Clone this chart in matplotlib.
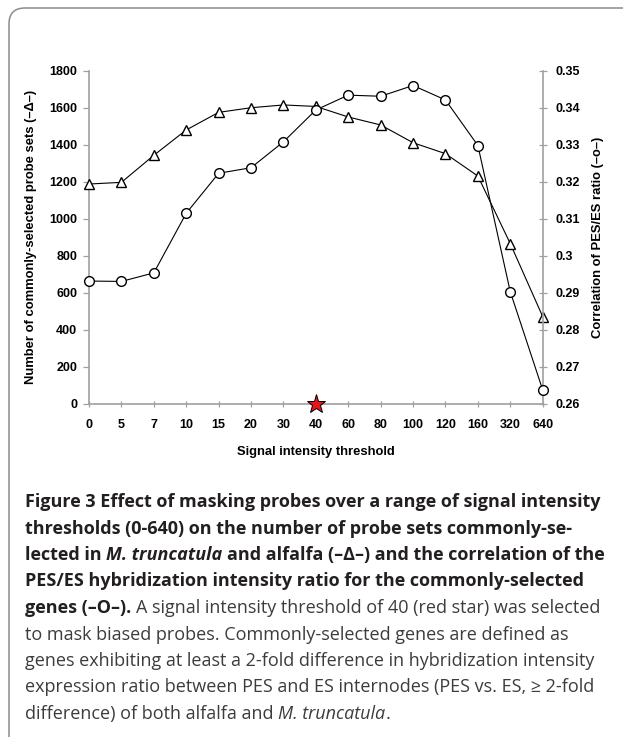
import matplotlib
matplotlib.use("Agg")
import matplotlib.pyplot as plt
from matplotlib.path import Path
from matplotlib.patches import PathPatch

# ---------------------------------------------------------------------------
# Data
# ---------------------------------------------------------------------------
thresholds = ["0", "5", "7", "10", "15", "20", "30", "40",
              "60", "80", "100", "120", "160", "320", "640"]
probe_sets = [1188, 1197, 1343, 1480, 1575, 1600, 1615, 1607,
              1550, 1507, 1411, 1352, 1231, 866, 472]
correlation = [0.2932, 0.2931, 0.2954, 0.3115, 0.3223, 0.3238, 0.3308, 0.3394,
               0.3434, 0.3431, 0.3460, 0.3421, 0.3298, 0.2903, 0.2638]
selected_threshold = "40"
left_ticks = [0, 200, 400, 600, 800, 1000, 1200, 1400, 1600, 1800]
right_ticks = [0.26, 0.27, 0.28, 0.29, 0.30, 0.31, 0.32, 0.33, 0.34, 0.35]

left_label = "Number of commonly-selected probe sets (\u2013\u0394\u2013)"
right_label = "Correlation of PES/ES ratio (\u2013o\u2013)"
x_label = "Signal intensity threshold"

B, BI, R, RI = "bold", "bolditalic", "regular", "italic"
caption = [
    [("Figure 3 Effect of masking probes over a range of signal intensity", B)],
    [("thresholds (0-640) on the number of probe sets commonly-se-", B)],
    [("lected in", B), ("M. truncatula", BI), ("and alfalfa (\u2013\u0394\u2013) and the correlation of the", B)],
    [("PES/ES hybridization intensity ratio for the commonly-selected", B)],
    [("genes (\u2013O\u2013).", B), ("A signal intensity threshold of 40 (red star) was selected", R)],
    [("to mask biased probes. Commonly-selected genes are defined as", R)],
    [("genes exhibiting at least a 2-fold difference in hybridization intensity", R)],
    [("expression ratio between PES and ES internodes (PES vs. ES, \u2265 2-fold", R)],
    [("difference) of both alfalfa and", R), ("M. truncatula", RI), (".", R, "nospace")],
]

# ---------------------------------------------------------------------------
# Figure / layout (pixel based, 626 x 737)
# ---------------------------------------------------------------------------
W, H = 626, 737
fig = plt.figure(figsize=(W / 100, H / 100), dpi=100)
fig.patch.set_facecolor("white")


def fx(x):
    return x / W


def fy(y):
    return 1 - y / H


AX_L, AX_R, AX_T, AX_B = 89, 542.7, 70.7, 404
ax = fig.add_axes([fx(AX_L), fy(AX_B), (AX_R - AX_L) / W, (AX_B - AX_T) / H])
ax2 = ax.twinx()

axis_grey = "#a0a0a0"
tick_font = dict(family="Liberation Sans", fontweight="bold", fontsize=9)
label_font = dict(family="Liberation Sans", fontweight="bold", fontsize=9.4)

xs = list(range(len(thresholds)))
ax.plot(xs, probe_sets, color="black", lw=0.8, marker="^", ms=6.5,
        mfc="white", mec="black", mew=1.0, clip_on=False, zorder=3)
ax2.plot(xs, correlation, color="black", lw=0.8, marker="o", ms=7,
         mfc="white", mec="black", mew=1.0, clip_on=False, zorder=3)
star_i = thresholds.index(selected_threshold)
ax.plot([star_i], [0], marker="*", ms=14, mfc="#e8141b", mec="black",
        mew=0.7, clip_on=False, zorder=5)

ax.set_xlim(0, len(thresholds) - 1)
ax.set_ylim(left_ticks[0], left_ticks[-1])
ax2.set_ylim(right_ticks[0], right_ticks[-1])

ax.set_xticks(xs)
ax.set_xticklabels(thresholds, **tick_font)
ax.set_yticks(left_ticks)
ax.set_yticklabels([str(v) for v in left_ticks], **tick_font)
ax2.set_yticks(right_ticks)
ax2.set_yticklabels([f"{v:g}" for v in right_ticks], **tick_font)

for a in (ax, ax2):
    a.set_facecolor("none")
    a.spines["top"].set_visible(False)
    for s in a.spines.values():
        s.set_color(axis_grey)
        s.set_linewidth(1.2)
ax.spines["right"].set_visible(False)
ax2.spines["left"].set_visible(False)
ax2.spines["bottom"].set_visible(False)

ax.tick_params(axis="y", direction="out", length=4, width=0.9, color=axis_grey, pad=4.5)
ax.tick_params(axis="x", direction="inout", length=5, width=0.9, color=axis_grey, pad=8)
ax2.tick_params(axis="y", direction="inout", length=6, width=0.9, color=axis_grey, pad=6)

ax.set_ylabel(left_label, labelpad=9, **label_font)
ax2.set_ylabel(right_label, labelpad=9, **label_font)
ax.set_xlabel(x_label, labelpad=11, **label_font)

# ---------------------------------------------------------------------------
# Frame (top + left rule with rounded corner)
# ---------------------------------------------------------------------------
frame = Path(
    [(fx(9), fy(737)), (fx(9), fy(24)), (fx(9), fy(8)), (fx(25), fy(8)), (fx(623), fy(8))],
    [Path.MOVETO, Path.LINETO, Path.CURVE3, Path.CURVE3, Path.LINETO],
)
fig.add_artist(PathPatch(frame, transform=fig.transFigure, fill=False,
                         edgecolor="#8c8c8c", lw=1.1))

# ---------------------------------------------------------------------------
# Caption, composed segment by segment
# ---------------------------------------------------------------------------
CAP_FONT = "Open Sans"
CAP_X, CAP_Y0, CAP_STEP, CAP_WIDTH = 25, 507, 26.5, 579
styles = {
    B: dict(fontweight="bold", fontstyle="normal", color="#231f20"),
    BI: dict(fontweight="bold", fontstyle="italic", color="#231f20"),
    R: dict(fontweight="normal", fontstyle="normal", color="#3c3c3c"),
    RI: dict(fontweight="normal", fontstyle="italic", color="#3c3c3c"),
}
renderer = fig.canvas.get_renderer()


def text_width(s, size, kind):
    t = fig.text(0, 0, s, fontsize=size, family=CAP_FONT, **styles[kind])
    w = t.get_window_extent(renderer).width
    t.remove()
    return w


# size the caption so the first (full) line spans the same width as the reference
probe = 12
cap_size = probe * CAP_WIDTH / text_width(caption[0][0][0], probe, B)


def put_line(y_px, segments):
    x = CAP_X
    for k, seg in enumerate(segments):
        text, kind = seg[0], seg[1]
        if k > 0 and not (len(seg) > 2 and seg[2] == "nospace"):
            x += text_width("a a", cap_size, kind) - text_width("aa", cap_size, kind)
        t = fig.text(fx(x), fy(y_px), text, fontsize=cap_size, family=CAP_FONT,
                     ha="left", va="baseline", **styles[kind])
        x += t.get_window_extent(renderer).width


for i, line in enumerate(caption):
    put_line(CAP_Y0 + i * CAP_STEP, line)

fig.savefig("out.png", dpi=100, facecolor="white")
